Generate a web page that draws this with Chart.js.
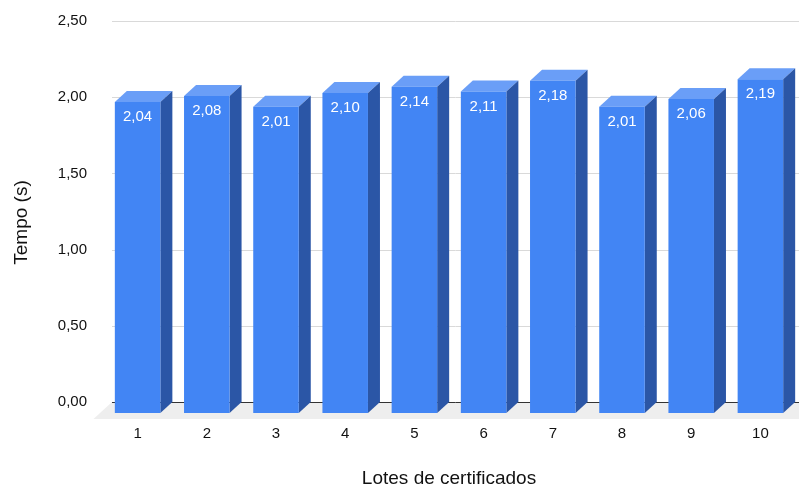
<!DOCTYPE html>
<html>
<head>
<meta charset="utf-8">
<script src="https://cdn.jsdelivr.net/npm/chart.js@4.4.1/dist/chart.umd.min.js"></script>
<style>
  body { margin: 0; background: #fff; }
  #wrap { width: 799px; height: 486px; position: relative; }
</style>
</head>
<body>
<div id="wrap"><canvas id="canvas-1"></canvas></div>
<script>
'use strict';

var lotes = ['1', '2', '3', '4', '5', '6', '7', '8', '9', '10'];
var tempos = [2.04, 2.08, 2.01, 2.10, 2.14, 2.11, 2.18, 2.01, 2.06, 2.19];
var yTicks = [0, 0.5, 1, 1.5, 2, 2.5];

var DX = 12, DY = -11; // depth of the 3d look
var fontFamily = "Arial, 'Liberation Sans', sans-serif";
var textColor = '#111111';

var fmt = function(v) {
  return v.toFixed(2).replace('.', ',');
};

var bars3d = {
  id: 'bars3d',
  beforeDatasetsDraw: function(chart) {
    var ctx = chart.ctx;
    var area = chart.chartArea;
    var y = chart.scales.y;
    var x0 = area.left + 9;
    var w = chart.width;

    ctx.save();
    // gridlines sit on the back wall
    ctx.strokeStyle = '#d9d9d9';
    ctx.lineWidth = 1;
    yTicks.forEach(function(t) {
      if (t === 0) return;
      var py = Math.round(y.getPixelForValue(t) + DY) + 0.5;
      ctx.beginPath();
      ctx.moveTo(x0, py);
      ctx.lineTo(w, py);
      ctx.stroke();
    });

    // floor
    var zb = y.getPixelForValue(0) + DY;
    var zf = y.getPixelForValue(0) + 6;
    ctx.fillStyle = '#eeeeee';
    ctx.beginPath();
    ctx.moveTo(x0, zb);
    ctx.lineTo(w, zb);
    ctx.lineTo(w, zf);
    ctx.lineTo(x0 - (zf - zb) * DX / -DY, zf);
    ctx.closePath();
    ctx.fill();

    ctx.strokeStyle = '#333333';
    ctx.beginPath();
    ctx.moveTo(x0, Math.round(zb) + 0.5);
    ctx.lineTo(w, Math.round(zb) + 0.5);
    ctx.stroke();

    // top and side faces
    chart.getDatasetMeta(0).data.forEach(function(bar) {
      var l = bar.x - bar.width / 2, r = bar.x + bar.width / 2;
      var t = bar.y, b = bar.base;
      ctx.fillStyle = '#6a9ef7';
      ctx.beginPath();
      ctx.moveTo(l, t);
      ctx.lineTo(l + DX, t + DY);
      ctx.lineTo(r + DX, t + DY);
      ctx.lineTo(r, t);
      ctx.closePath();
      ctx.fill();
      ctx.fillStyle = '#2b56a6';
      ctx.beginPath();
      ctx.moveTo(r, t);
      ctx.lineTo(r + DX, t + DY);
      ctx.lineTo(r + DX, b + DY);
      ctx.lineTo(r, b);
      ctx.closePath();
      ctx.fill();
    });
    ctx.restore();
  },
  afterDatasetsDraw: function(chart) {
    var ctx = chart.ctx;
    ctx.save();
    ctx.fillStyle = '#ffffff';
    ctx.font = '15px ' + fontFamily;
    ctx.textAlign = 'center';
    ctx.textBaseline = 'middle';
    chart.getDatasetMeta(0).data.forEach(function(bar, i) {
      ctx.fillText(fmt(tempos[i]), bar.x, bar.y + 15);
    });
    ctx.restore();
  }
};

var ctx = document.getElementById('canvas-1');
var chart = new Chart(ctx, {
  type: 'bar',
  data: {
    labels: lotes,
    datasets: [{
      data: tempos,
      backgroundColor: '#4285f4',
      borderWidth: 0,
      barPercentage: 1,
      categoryPercentage: 0.658
    }]
  },
  options: {
    responsive: true,
    maintainAspectRatio: false,
    animation: false,
    layout: { padding: { left: 0, right: 4, top: 32, bottom: 0 } },
    plugins: {
      legend: { display: false },
      tooltip: { enabled: false }
    },
    scales: {
      x: {
        grid: { display: false, drawTicks: false },
        border: { display: false },
        ticks: { color: textColor, padding: 12, font: { family: fontFamily, size: 15 } },
        title: {
          display: true,
          text: 'Lotes de certificados',
          color: textColor,
          font: { family: fontFamily, size: 19, lineHeight: 0.8 },
          padding: { top: 0, bottom: 0 }
        },
        afterFit: function(scale) { scale.height = 73; }
      },
      y: {
        min: yTicks[0],
        max: yTicks[yTicks.length - 1],
        grid: { display: false, drawTicks: false },
        border: { display: false },
        ticks: {
          stepSize: yTicks[1] - yTicks[0],
          color: textColor,
          padding: 16,
          labelOffset: DY,
          font: { family: fontFamily, size: 15 },
          callback: function(v) { return fmt(v); }
        },
        title: {
          display: true,
          text: 'Tempo (s)',
          color: textColor,
          font: { family: fontFamily, size: 19 },
          padding: { top: 10, bottom: 0 }
        },
        afterFit: function(scale) { scale.width = 103; }
      }
    }
  },
  plugins: [bars3d]
});
</script>
</body>
</html>
